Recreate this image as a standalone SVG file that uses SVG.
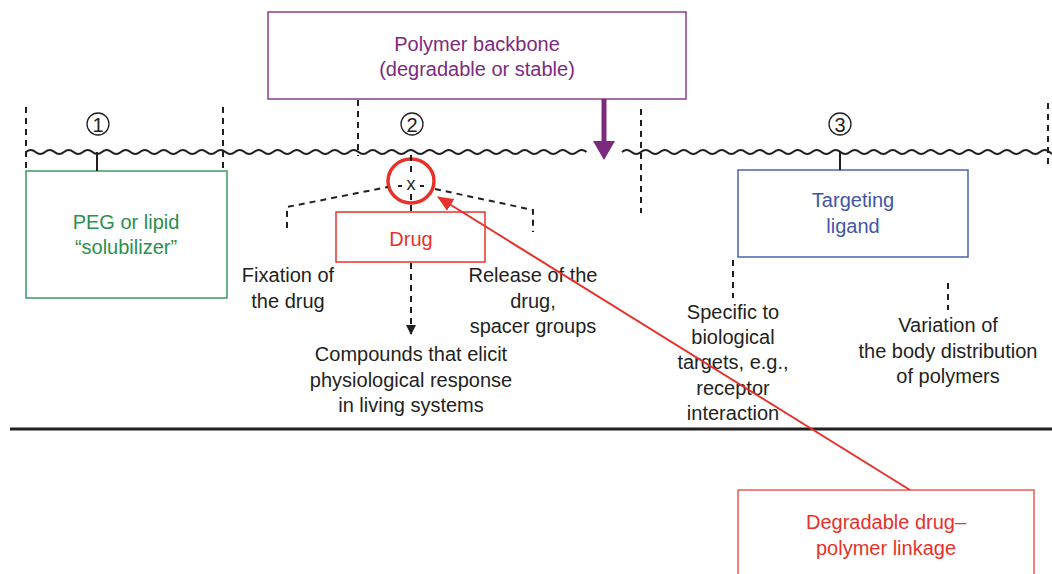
<svg xmlns="http://www.w3.org/2000/svg" width="1052" height="574" viewBox="0 0 1052 574">
<style>
text{font-family:"Liberation Sans",Arial,sans-serif;font-size:20px;text-anchor:middle;dominant-baseline:central}
.k{fill:#231f20}
.dash{stroke:#231f20;stroke-width:2;stroke-dasharray:6,5;fill:none}
.solid{stroke:#231f20;stroke-width:2;fill:none}
.wave{stroke:#231f20;stroke-width:2;fill:none}
.num{font-size:20px}
</style>
<defs>
<marker id="ah" markerWidth="10" markerHeight="10" refX="9" refY="5" orient="auto" markerUnits="userSpaceOnUse"><path d="M0,0 L10,5 L0,10 z" fill="#231f20"/></marker>
<marker id="ahr" markerWidth="16" markerHeight="14" refX="15" refY="7" orient="auto" markerUnits="userSpaceOnUse"><path d="M0,0 L16,7 L0,14 z" fill="#e8312a"/></marker>
</defs>
<rect width="1052" height="574" fill="#fff"/>
<g id="backbone-line">
<path class="wave" d="M26,152 q4.75,-4 9.5,0 t9.5,0 t9.5,0 t9.5,0 t9.5,0 t9.5,0 t9.5,0 t9.5,0 t9.5,0 t9.5,0 t9.5,0 t9.5,0 t9.5,0 t9.5,0 t9.5,0 t9.5,0 t9.5,0 t9.5,0 t9.5,0 t9.5,0 t9.5,0 t9.5,0 t9.5,0 t9.5,0 t9.5,0 t9.5,0 t9.5,0 t9.5,0 t9.5,0 t9.5,0 t9.5,0 t9.5,0 t9.5,0 t9.5,0 t9.5,0 t9.5,0 t9.5,0 t9.5,0 t9.5,0 t9.5,0 t9.5,0 t9.5,0 t9.5,0 t9.5,0 t9.5,0 t9.5,0 t9.5,0 t9.5,0 t9.5,0 t9.5,0 t9.5,0 t9.5,0 t9.5,0 t9.5,0 t9.5,0 t9.5,0 t9.5,0 t9.5,0 t9.5,0"/>
<path class="wave" d="M622,152 q4.75,-4 9.5,0 t9.5,0 t9.5,0 t9.5,0 t9.5,0 t9.5,0 t9.5,0 t9.5,0 t9.5,0 t9.5,0 t9.5,0 t9.5,0 t9.5,0 t9.5,0 t9.5,0 t9.5,0 t9.5,0 t9.5,0 t9.5,0 t9.5,0 t9.5,0 t9.5,0 t9.5,0 t9.5,0 t9.5,0 t9.5,0 t9.5,0 t9.5,0 t9.5,0 t9.5,0 t9.5,0 t9.5,0 t9.5,0 t9.5,0 t9.5,0 t9.5,0 t9.5,0 t9.5,0 t9.5,0 t9.5,0 t9.5,0 t9.5,0 t9.5,0 t9.5,0 t9.5,0 t9.5,0"/>
<line x1="10" y1="429" x2="1052" y2="429" stroke="#231f20" stroke-width="3"/>
</g>
<g id="sections">
<line class="dash" x1="26" y1="107" x2="26" y2="171"/>
<line class="dash" x1="223" y1="107" x2="223" y2="168"/>
<line class="dash" x1="358" y1="100" x2="358" y2="156"/>
<line class="dash" x1="641" y1="109" x2="641" y2="213"/>
<line class="dash" x1="1048" y1="103" x2="1048" y2="166"/>
<circle cx="98" cy="124" r="11" fill="none" stroke="#231f20" stroke-width="1.3"/>
<text class="k num" x="98" y="125">1</text>
<circle cx="412" cy="124" r="11" fill="none" stroke="#231f20" stroke-width="1.3"/>
<text class="k num" x="412" y="125">2</text>
<circle cx="840" cy="124" r="11" fill="none" stroke="#231f20" stroke-width="1.3"/>
<text class="k num" x="840" y="125">3</text>
</g>
<g id="polymer-backbone">
<rect x="268" y="12" width="418" height="87" fill="#fff" stroke="#8a3f8c" stroke-width="1.5"/>
<text x="477" y="44" fill="#7d2a80">Polymer backbone</text>
<text x="477" y="69" fill="#7d2a80">(degradable or stable)</text>
</g>
<g id="peg">
<rect x="26" y="171" width="201" height="127" fill="#fff" stroke="#3a9a5c" stroke-width="1.5"/>
<text x="126" y="222" fill="#2b8f4e">PEG or lipid</text>
<text x="126" y="247" fill="#2b8f4e">“solubilizer”</text>
</g>
<g id="drug">
<rect x="336" y="212" width="149" height="50" fill="#fff" stroke="#e8312a" stroke-width="1.5"/>
<text x="411" y="239" fill="#e8312a">Drug</text>
</g>
<g id="linkage-x">
<text class="k" x="411" y="184" style="font-size:18px">x</text>
<ellipse cx="411" cy="181" rx="23" ry="22" fill="none" stroke="#e8312a" stroke-width="3.5"/>
</g>
<g id="targeting">
<rect x="738" y="170" width="230" height="87" fill="#fff" stroke="#4a63b0" stroke-width="1.5"/>
<text x="853" y="200" fill="#3f56a6">Targeting</text>
<text x="853" y="226" fill="#3f56a6">ligand</text>
</g>
<g id="degradable-linkage">
<rect x="738" y="490" width="296" height="100" fill="#fff" stroke="#ec5a50" stroke-width="1.5"/>
<text x="886" y="522" fill="#e8312a">Degradable drug–</text>
<text x="886" y="548" fill="#e8312a">polymer linkage</text>
</g>
<g id="labels">
<text class="k" x="288" y="275">Fixation of</text>
<text class="k" x="288" y="301">the drug</text>
<text class="k" x="533" y="275">Release of the</text>
<text class="k" x="533" y="301">drug,</text>
<text class="k" x="533" y="326">spacer groups</text>
<text class="k" x="411" y="354">Compounds that elicit</text>
<text class="k" x="411" y="380">physiological response</text>
<text class="k" x="411" y="405">in living systems</text>
<text class="k" x="733" y="312">Specific to</text>
<text class="k" x="733" y="337">biological</text>
<text class="k" x="733" y="362">targets, e.g.,</text>
<text class="k" x="733" y="388">receptor</text>
<text class="k" x="733" y="413">interaction</text>
<text class="k" x="948" y="325">Variation of</text>
<text class="k" x="948" y="351">the body distribution</text>
<text class="k" x="948" y="376">of polymers</text>
</g>
<g id="connectors">
<line class="solid" x1="97" y1="152" x2="97" y2="171"/>
<line class="solid" x1="840" y1="152" x2="840" y2="170"/>
<line class="dash" x1="411" y1="155" x2="411" y2="176" stroke-dasharray="5,4"/>
<line class="dash" x1="411" y1="194" x2="411" y2="212" stroke-dasharray="5,4"/>
<polyline class="dash" points="287,228 287,207 388,187"/>
<polyline class="dash" points="398,186 402,186"/>
<polyline class="dash" points="420,186 424,186"/>
<polyline class="dash" points="435,189 533,210 533,232"/>
<line class="dash" x1="411" y1="263" x2="411" y2="334" marker-end="url(#ah)"/>
<line class="dash" x1="733" y1="260" x2="733" y2="298"/>
<line class="dash" x1="948" y1="283" x2="948" y2="310"/>
<line x1="604" y1="99" x2="604" y2="145" stroke="#7b2a7e" stroke-width="5"/>
<path d="M593,141 L615,141 L604,160 z" fill="#7b2a7e"/>
<line x1="910" y1="490" x2="438" y2="197" stroke="#e8312a" stroke-width="2" marker-end="url(#ahr)"/>
</g>
</svg>
